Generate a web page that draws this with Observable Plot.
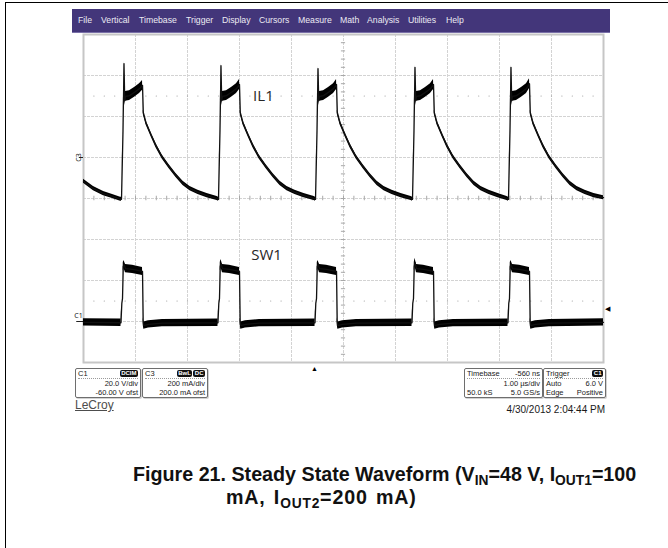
<!DOCTYPE html>
<html>
<head>
<meta charset="utf-8">
<script src="https://cdn.jsdelivr.net/npm/d3@7"></script>
<script src="https://cdn.jsdelivr.net/npm/@observablehq/plot@0.6"></script>
<style>
  html, body { margin: 0; padding: 0; background: #fff; }
  body { width: 668px; height: 548px; position: relative; overflow: hidden; font-family: "Liberation Sans", Arial, sans-serif; }
  .frameTop { position: absolute; left: 5px; top: 2px; width: 663px; height: 0; border-top: 1.5px solid #000; }
  .frameLeft { position: absolute; left: 5px; top: 2px; width: 0; height: 546px; border-left: 1.5px solid #000; }
  .menu { position: absolute; left: 72px; top: 9px; width: 538px; height: 23px; background: #43367a; border-bottom: 1px solid #7a70a8; }
  .menu span { position: absolute; top: 0; line-height: 23px; font-size: 8.7px; color: #ecebf3; white-space: nowrap; }
  #chart { position: absolute; left: 60px; top: 33px; }
  .box { position: absolute; top: 368px; height: 28px; border: 1px solid #6e6e6e; border-radius: 2px; box-shadow: 1px 1px 0 #d2d2d2; font-size: 7.5px; color: #1a1a1a; background: #fff; }
  .row { position: absolute; left: 2px; right: 2px; height: 9px; line-height: 9px; white-space: nowrap; }
  .row .l { position: absolute; left: 0; }
  .row .r { position: absolute; right: 0; }
  .r1 { top: 0; border-bottom: 1px dotted #9a9a9a; }
  .r2 { top: 10px; }
  .r3 { top: 19px; }
  .badge { display: inline-block; background: #111; color: #fff; border-radius: 2px; font-size: 6px; font-weight: bold; line-height: 7px; padding: 0 1.5px; margin-left: 1px; vertical-align: 1px; }
  .lecroy { position: absolute; left: 75px; top: 398px; font-size: 12px; color: #4d4d4d; text-decoration: underline; }
  .date { position: absolute; right: 63px; top: 404px; font-size: 10px; color: #1a1a1a; white-space: nowrap; }
  .cap { position: absolute; font-weight: bold; font-size: 19.7px; line-height: 22px; color: #111; white-space: nowrap; }
  .cap sub { font-size: 0.7em; vertical-align: -0.28em; line-height: 0; }
</style>
</head>
<body>
<div class="frameTop"></div>
<div class="frameLeft"></div>
<div class="menu" id="menu"></div>
<div id="chart"></div>

<div class="box" style="left:75px;width:64px;">
  <div class="row r1"><span class="l">C1</span><span class="r"><span class="badge">DCIM</span></span></div>
  <div class="row r2"><span class="r">20.0 V/div</span></div>
  <div class="row r3"><span class="r">-60.00 V ofst</span></div>
</div>
<div class="box" style="left:142px;width:64px;">
  <div class="row r1"><span class="l">C3</span><span class="r"><span class="badge">BwL</span><span class="badge">DC</span></span></div>
  <div class="row r2"><span class="r">200 mA/div</span></div>
  <div class="row r3"><span class="r">200.0 mA ofst</span></div>
</div>
<div class="box" style="left:464px;width:77px;">
  <div class="row r1"><span class="l">Timebase</span><span class="r">-560 ns</span></div>
  <div class="row r2"><span class="r">1.00 µs/div</span></div>
  <div class="row r3"><span class="l">50.0 kS</span><span class="r">5.0 GS/s</span></div>
</div>
<div class="box" style="left:543px;width:61px;">
  <div class="row r1"><span class="l">Trigger</span><span class="r"><span class="badge">C1</span></span></div>
  <div class="row r2"><span class="l">Auto</span><span class="r">6.0 V</span></div>
  <div class="row r3"><span class="l">Edge</span><span class="r">Positive</span></div>
</div>
<div class="lecroy">LeCroy</div>
<div class="date">4/30/2013 2:04:44 PM</div>

<div class="cap" style="left:133px;top:463px;">Figure 21. Steady State Waveform (V<sub>IN</sub>=48 V, I<sub>OUT1</sub>=100</div>
<div class="cap" style="left:226px;top:486px;letter-spacing:0.8px;word-spacing:2px;">mA, I<sub>OUT2</sub>=200 mA)</div>

<script>
// ---------- menu ----------
const menuItems = ["File", "Vertical", "Timebase", "Trigger", "Display", "Cursors", "Measure", "Math", "Analysis", "Utilities", "Help"];
const menuLeft = [6, 29, 67, 114, 150, 187, 226, 268, 295, 336, 374];

// ---------- scope settings ----------
const timeDivs = 10;          // horizontal divisions (1.00 µs/div)
const vertDivs = 8;           // vertical divisions
const triggerDelayUs = -0.56; // Timebase -560 ns
const c1VoltsPerDiv = 20.0, c1OffsetV = -60.0, triggerLevelV = 6.0;

// ---------- traces (time in µs across the screen, value in screen divisions) ----------
const il1Time = [
  0, 0.192, 0.385, 0.558, 0.712,
  0.731, 0.760, 0.779, 0.793, 0.808, 0.885, 0.981, 1.077, 1.135, 1.150, 1.202, 1.298, 1.394, 1.510, 1.644, 1.779, 1.914, 2.048, 2.202, 2.375, 2.568,
  2.596, 2.625, 2.644, 2.658, 2.673, 2.750, 2.846, 2.942, 3.000, 3.015, 3.067, 3.163, 3.259, 3.375, 3.509, 3.644, 3.779, 3.913, 4.067, 4.240, 4.433,
  4.462, 4.491, 4.510, 4.524, 4.539, 4.616, 4.712, 4.808, 4.866, 4.881, 4.933, 5.029, 5.125, 5.241, 5.375, 5.510, 5.645, 5.779, 5.933, 6.106, 6.299,
  6.327, 6.356, 6.375, 6.389, 6.404, 6.481, 6.577, 6.673, 6.731, 6.746, 6.798, 6.894, 6.990, 7.106, 7.240, 7.375, 7.510, 7.644, 7.798, 7.971, 8.144,
  8.173, 8.202, 8.221, 8.235, 8.250, 8.327, 8.423, 8.519, 8.577, 8.592, 8.644, 8.740, 8.836, 8.952, 9.086, 9.221, 9.356, 9.490, 9.644, 9.817, 10.0
];
const il1Div = [
  4.42, 4.24, 4.12, 4.05, 3.98,
  3.98, 5.66, 7.29, 6.39, 6.49, 6.51, 6.59, 6.68, 6.76, 6.10, 5.85, 5.56, 5.29, 5.02, 4.78, 4.56, 4.37, 4.24, 4.15, 4.07, 4.00,
  3.98, 5.66, 7.24, 6.39, 6.49, 6.51, 6.59, 6.68, 6.78, 6.10, 5.85, 5.56, 5.29, 5.02, 4.78, 4.56, 4.37, 4.24, 4.15, 4.07, 4.00,
  3.98, 5.66, 7.17, 6.39, 6.49, 6.51, 6.59, 6.68, 6.78, 6.10, 5.85, 5.56, 5.29, 5.02, 4.78, 4.56, 4.37, 4.24, 4.15, 4.07, 4.00,
  3.98, 5.66, 7.20, 6.39, 6.49, 6.51, 6.59, 6.68, 6.78, 6.10, 5.85, 5.56, 5.29, 5.02, 4.78, 4.56, 4.37, 4.24, 4.15, 4.07, 4.00,
  3.98, 5.66, 7.20, 6.39, 6.49, 6.51, 6.59, 6.68, 6.80, 6.10, 5.85, 5.56, 5.29, 5.02, 4.78, 4.56, 4.37, 4.24, 4.15, 4.07, 4.02
];
const sw1Time = [
  0, 0.721, 0.737, 0.750, 0.765, 0.779, 0.808, 0.942, 1.135, 1.148, 1.160, 1.250, 1.519, 2.586,
  2.602, 2.615, 2.630, 2.644, 2.673, 2.807, 3.000, 3.013, 3.025, 3.115, 3.384, 4.452,
  4.467, 4.481, 4.496, 4.510, 4.539, 4.673, 4.866, 4.879, 4.891, 4.981, 5.250, 6.317,
  6.332, 6.346, 6.361, 6.375, 6.404, 6.538, 6.731, 6.744, 6.756, 6.846, 7.115, 8.163,
  8.178, 8.192, 8.207, 8.221, 8.250, 8.384, 8.577, 8.590, 8.602, 8.692, 8.961, 10.0
];
const sw1Div = [
  0.98, 0.97, 1.44, 1.56, 2.34, 2.39, 2.29, 2.27, 2.22, 1.00, 0.90, 0.93, 0.96, 0.97,
  1.44, 1.56, 2.34, 2.41, 2.29, 2.27, 2.22, 1.00, 0.90, 0.93, 0.96, 0.97,
  1.44, 1.56, 2.34, 2.39, 2.29, 2.27, 2.22, 1.00, 0.90, 0.93, 0.96, 0.97,
  1.44, 1.56, 2.34, 2.44, 2.29, 2.27, 2.22, 1.00, 0.90, 0.93, 0.96, 0.97,
  1.44, 1.56, 2.34, 2.39, 2.29, 2.27, 2.22, 1.00, 0.90, 0.93, 0.96, 0.98
];
const traceLabels = [
  {t: 3.46, v: 6.49, name: "IL1"},
  {t: 3.52, v: 2.61, name: "SW1"}
];

// ---------- build ----------
const menu = document.getElementById("menu");
menuItems.forEach((m, i) => {
  const s = document.createElement("span");
  s.textContent = m;
  s.style.left = menuLeft[i] + "px";
  menu.appendChild(s);
});

const il1 = il1Time.map((t, i) => ({t, v: il1Div[i]}));
const sw1 = sw1Time.map((t, i) => ({t, v: sw1Div[i]}));
const il1Noise = d => (d.v > 6.3 && d.v < 6.95) ? 0.12 : 0.05;
const sw1Noise = d => d.v > 2.1 ? 0.1 : (d.v < 1.05 ? 0.09 : 0);

const centerT = timeDivs / 2, centerV = vertDivs / 2;
const minorX = d3.range(0, timeDivs + 0.001, 0.2);
const minorY = d3.range(0, vertDivs + 0.001, 0.2);
const c1ZeroDiv = centerV + c1OffsetV / c1VoltsPerDiv;
const trigDiv = c1ZeroDiv + triggerLevelV / c1VoltsPerDiv;
const trigT = centerT + triggerDelayUs;
const c3ZeroDiv = centerV + 1;

const gridColor = "#d3d3d3";

const chart = Plot.plot({
  width: 560,
  height: 340,
  marginLeft: 23, marginRight: 17, marginTop: 1, marginBottom: 11,
  x: {domain: [0, timeDivs], axis: null},
  y: {domain: [0, vertDivs], axis: null},
  style: {background: "transparent", overflow: "visible"},
  marks: [
    Plot.ruleX(d3.range(1, timeDivs), {stroke: gridColor, strokeDasharray: "3,1"}),
    Plot.ruleY(d3.range(1, vertDivs), {stroke: gridColor, strokeDasharray: "3,1"}),
    Plot.ruleX(minorX, {x: d => d, y1: centerV - 0.055, y2: centerV + 0.055, stroke: "#a8a8a8"}),
    Plot.ruleY(minorY, {y: d => d, x1: centerT - 0.04, x2: centerT + 0.04, stroke: "#a8a8a8"}),
    Plot.dot(minorX, {x: d => d, y: 6.5, r: 0.6, fill: "#9a9a9a", stroke: "none"}),
    Plot.dot(minorX, {x: d => d, y: 1.5, r: 0.6, fill: "#9a9a9a", stroke: "none"}),
    Plot.frame({stroke: "#c6c6c6", strokeWidth: 2}),
    // IL1
    Plot.areaY(il1, {x: "t", y1: d => d.v - il1Noise(d), y2: d => d.v + il1Noise(d), fill: "#000"}),
    Plot.line(il1, {x: "t", y: "v", stroke: "#111", strokeWidth: 1.3}),
    // SW1
    Plot.areaY(sw1, {x: "t", y1: d => d.v - sw1Noise(d), y2: d => d.v + sw1Noise(d), fill: "#000"}),
    Plot.line(sw1, {x: "t", y: "v", stroke: "#111", strokeWidth: 1.3}),
    // labels
    Plot.text(traceLabels, {x: "t", y: "v", text: "name", fontSize: 15, fontFamily: "Open Sans", fill: "#262626"}),
    // channel markers
    Plot.text(["C3"], {x: 0, y: c3ZeroDiv, text: d => d, rotate: -90, dx: -5, fontSize: 7, fill: "#222"}),
    Plot.ruleY([c3ZeroDiv], {x1: -0.08, x2: 0, stroke: "#222"}),
    Plot.text(["C1"], {x: 0, y: c1ZeroDiv, text: d => d, dx: -5, dy: -6, fontSize: 7, fill: "#222"}),
    Plot.ruleY([c1ZeroDiv], {x1: -0.13, x2: 0, stroke: "#222"}),
    Plot.text([trigDiv], {x: timeDivs, y: d => d, text: () => "◀", dx: 4, fontSize: 7, fill: "#000"}),
    Plot.text([trigT], {x: d => d, y: 0, text: () => "▲", dy: 6, fontSize: 7, fill: "#000"})
  ]
});
document.getElementById("chart").appendChild(chart);
</script>
</body>
</html>
